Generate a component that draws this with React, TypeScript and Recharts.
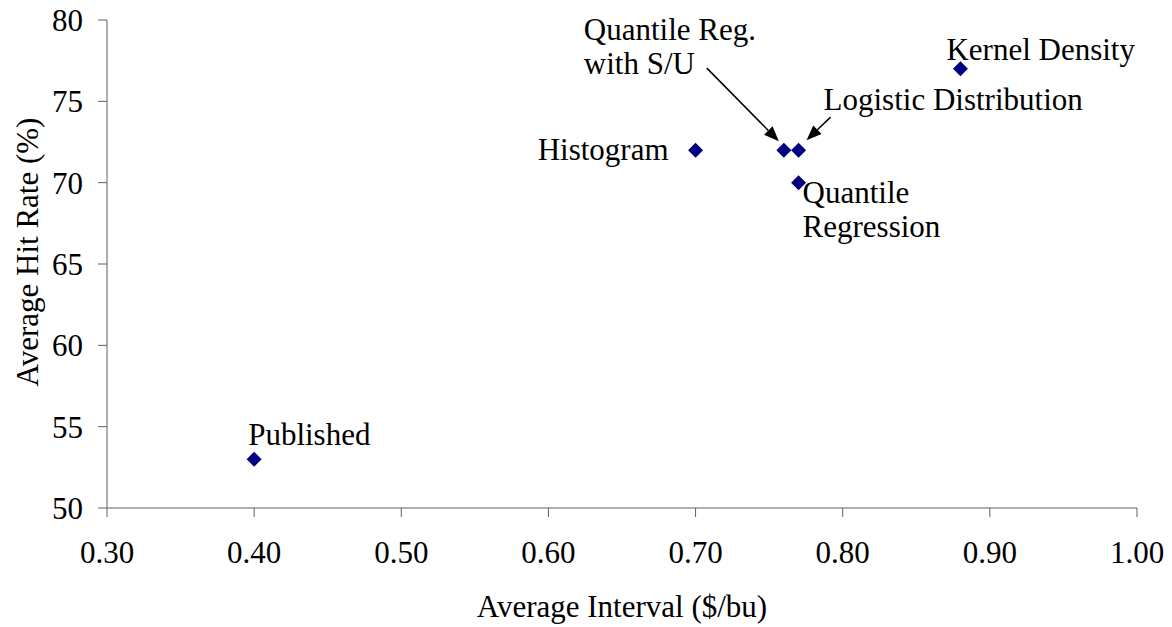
import React from 'react'
import { ScatterChart, Scatter, XAxis, YAxis, Label } from 'recharts'

const methods = [
  'Published',
  'Histogram',
  'Quantile Reg.|with S/U',
  'Logistic Distribution',
  'Quantile|Regression',
  'Kernel Density',
]
const avgInterval = [0.4, 0.7, 0.76, 0.77, 0.77, 0.88]
const avgHitRate = [53, 72, 72, 72, 70, 77]

const xTicks = [0.3, 0.4, 0.5, 0.6, 0.7, 0.8, 0.9, 1.0]
const yTicks = [50, 55, 60, 65, 70, 75, 80]

const FONT = '"Liberation Serif", "Times New Roman", Times, serif'
const FS = 31
const AXIS = '#5f5f5f'
const MARK = '#000080'

// where each label sits relative to its point (first baseline), plus optional arrow
const LABEL_PLACE: Record<string, any> = {
  'Published': { dx: -6, dy: -14, anchor: 'start' },
  'Histogram': { dx: -27, dy: 10, anchor: 'end' },
  'Quantile Reg.|with S/U': { dx: -200, dy: -110, anchor: 'start', arrow: [-77, -82, -5, -9] },
  'Logistic Distribution': { dx: 25, dy: -40, anchor: 'start', arrow: [32, -33, 8, -10] },
  'Quantile|Regression': { dx: 4, dy: 20, anchor: 'start' },
  'Kernel Density': { dx: -14, dy: -9, anchor: 'start' },
}

const data = methods.map((m, i) => ({ method: m, x: avgInterval[i], y: avgHitRate[i] }))

function Arrow({ x1, y1, x2, y2 }: { x1: number; y1: number; x2: number; y2: number }) {
  const a = Math.atan2(y2 - y1, x2 - x1)
  const len = 15
  const w = 6
  const bx = x2 - len * Math.cos(a)
  const by = y2 - len * Math.sin(a)
  const px = -Math.sin(a) * w
  const py = Math.cos(a) * w
  return (
    <g>
      <line x1={x1} y1={y1} x2={bx} y2={by} stroke="#000" strokeWidth={1.5} />
      <polygon points={`${x2},${y2} ${bx + px},${by + py} ${bx - px},${by - py}`} fill="#000" />
    </g>
  )
}

function PointShape(props: any) {
  const { cx, cy, payload } = props
  const r = 7.5
  const place = LABEL_PLACE[payload.method]
  const lines = String(payload.method).split('|')
  return (
    <g>
      <polygon
        points={`${cx},${cy - r} ${cx + r},${cy} ${cx},${cy + r} ${cx - r},${cy}`}
        fill={MARK}
      />
      <text
        x={cx + place.dx}
        y={cy + place.dy}
        textAnchor={place.anchor}
        fontFamily={FONT}
        fontSize={FS}
        fill="#000"
      >
        {lines.map((l, i) => (
          <tspan key={i} x={cx + place.dx} dy={i === 0 ? 0 : 34}>
            {l}
          </tspan>
        ))}
      </text>
      {place.arrow && (
        <Arrow
          x1={cx + place.arrow[0]}
          y1={cy + place.arrow[1]}
          x2={cx + place.arrow[2]}
          y2={cy + place.arrow[3]}
        />
      )}
    </g>
  )
}

export default function App() {
  const tick = { fill: '#000', fontSize: FS, fontFamily: FONT }
  return (
    <div style={{ position: 'absolute', left: 0, top: 0, background: '#fff' }}>
      <ScatterChart
        width={1172}
        height={627}
        margin={{ top: 20, right: 35, bottom: 0, left: 0 }}
      >
        <XAxis
          type="number"
          dataKey="x"
          domain={[0.3, 1.0]}
          ticks={xTicks}
          tickFormatter={(v: number) => v.toFixed(2)}
          height={119}
          tickSize={9}
          tickMargin={24}
          stroke={AXIS}
          tick={tick}
        >
          <Label
            value="Average Interval ($/bu)"
            position="insideBottom"
            offset={10}
            style={{ fill: '#000', fontSize: FS, fontFamily: FONT }}
          />
        </XAxis>
        <YAxis
          type="number"
          dataKey="y"
          domain={[50, 80]}
          ticks={yTicks}
          width={107}
          tickSize={9}
          tickMargin={15}
          stroke={AXIS}
          tick={tick}
        >
          <Label
            content={() => (
              <text
                x={27}
                y={252}
                transform="rotate(-90 27 252)"
                textAnchor="middle"
                dy="0.355em"
                fontFamily={FONT}
                fontSize={FS}
                fill="#000"
              >
                Average Hit Rate (%)
              </text>
            )}
          />
        </YAxis>
        <Scatter data={data} fill={MARK} shape={PointShape} isAnimationActive={false} />
      </ScatterChart>
    </div>
  )
}
